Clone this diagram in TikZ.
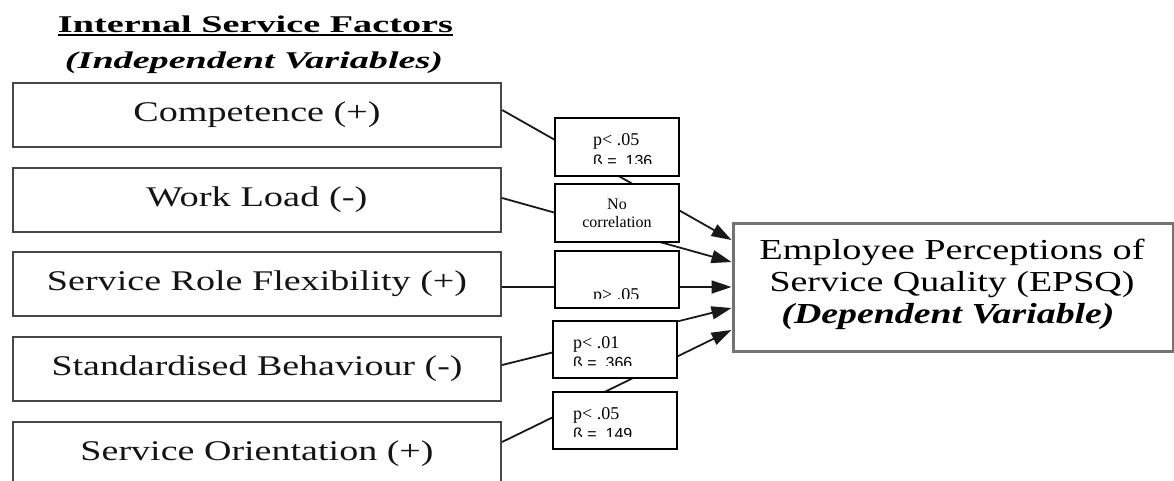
\documentclass[tikz,border=0pt]{standalone}
\usepackage{fontspec}
\usepackage{graphicx}
\setmainfont{Liberation Serif}
\newfontfamily\sansf{Liberation Sans}
\usetikzlibrary{arrows.meta}
% stretch a line of text to a given width, keeping its height
\newcommand{\fitw}[2]{\resizebox{#1}{\height}{#2}}
\newcommand{\fsz}[1]{\fontsize{#1}{#1}\selectfont}

\begin{document}
\begin{tikzpicture}[x=1pt,y=-1pt,
  factor/.style={draw=black!72, line width=2.2pt, minimum width=488pt,
    minimum height=64pt, inner sep=0pt, text=black!92, font=\fsz{28.5pt}},
  resultbox/.style={draw=black, line width=1.4pt, fill=white,
    minimum width=124pt, inner sep=0pt},
  outcome/.style={draw=black!55, line width=3pt, minimum width=440pt,
    minimum height=128pt, inner sep=0pt},
  link/.style={draw=black!90, line width=1.8pt},
  arr/.style={link, -{Triangle[length=20pt,width=13pt]}},
  ptext/.style={anchor=base west, inner sep=0pt, font=\fsz{18pt}},
  btext/.style={anchor=base west, inner sep=0pt, font=\sansf\fsz{16pt}},
  ctext/.style={anchor=base, inner sep=0pt, font=\fsz{16pt}},
  head/.style={anchor=base, inner sep=0pt, font=\fsz{24pt}},
  otext/.style={anchor=base, inner sep=0pt, font=\fsz{29pt}},
]
\useasboundingbox (0,0) rectangle (1174,480);
\clip (0,0) rectangle (1174,480);

% heading
\node[head] (h1) at (255.5,32) {\fitw{395pt}{\bfseries Internal Service Factors}};
\draw[line width=2pt] ([yshift=-3pt]h1.base west) -- ([yshift=-3pt]h1.base east);
\node[head] (h2) at (254,68) {\fitw{378pt}{\bfseries\itshape (Independent Variables)}};

% independent variables
\node[factor] (f1) at (257,115) {\fitw{247pt}{Competence (+)}};
\node[factor] (f2) at (257,200) {\fitw{221pt}{Work Load (-)}};
\node[factor] (f3) at (257,284) {\fitw{420pt}{Service Role Flexibility (+)}};
\node[factor] (f4) at (257,369) {\fitw{411pt}{Standardised Behaviour (-)}};
\node[factor] (f5) at (257,454) {\fitw{353pt}{Service Orientation (+)}};

% dependent variable
\node[outcome] (epsq) at (953,287) {};
\node[otext] (e1) at (952,259) {\fitw{385pt}{Employee Perceptions of}};
\node[otext] (e2) at (952,291) {\fitw{365pt}{Service Quality (EPSQ)}};
\node[otext] (e3) at (948,323) {\fitw{333pt}{\bfseries\itshape (Dependent Variable)}};

% paths
\draw[arr] ([yshift=5pt]f1.east) -- ([yshift=47pt]epsq.west);
\draw[arr] ([yshift=2pt]f2.east) -- ([yshift=25pt]epsq.west);
\draw[arr] ([yshift=-3pt]f3.east) -- (epsq.west);
\draw[arr] ([yshift=4pt]f4.east) -- ([yshift=-21pt]epsq.west);
\draw[arr] ([yshift=12pt]f5.east) -- ([yshift=-43pt]epsq.west);

% result boxes on the paths
\node[resultbox, minimum height=58pt] (s1) at (617,147) {};
\node[resultbox, minimum height=58pt] (s2) at (617,213) {};
\node[resultbox, minimum height=57pt] (s3) at (617,279.5) {};
\node[resultbox, minimum height=57pt] (s4) at (615,349.5) {};
\node[resultbox, minimum height=57pt] (s5) at (615,420.5) {};

\begin{scope}
  \clip (555,118) rectangle (679,163.5);
  \node[ptext] (r1a) at (593,145) {p< .05};
  \node[btext] (r1b) at (593,166.5) {ß = .136};
\end{scope}

\node[ctext] (r2a) at (617,209) {No};
\node[ctext] (r2b) at (617,227) {correlation};

\begin{scope}
  \clip (555,251) rectangle (679,298);
  \node[ptext] (r3a) at (593,300) {p> .05};
\end{scope}

\begin{scope}
  \clip (553,321) rectangle (677,365.5);
  \node[ptext] (r4a) at (573,348) {p< .01};
  \node[btext] (r4b) at (573,368.5) {ß = .366};
\end{scope}

\begin{scope}
  \clip (553,392) rectangle (677,436.5);
  \node[ptext] (r5a) at (573,419) {p< .05};
  \node[btext] (r5b) at (573,439.5) {ß = .149};
\end{scope}
\end{tikzpicture}
\end{document}
